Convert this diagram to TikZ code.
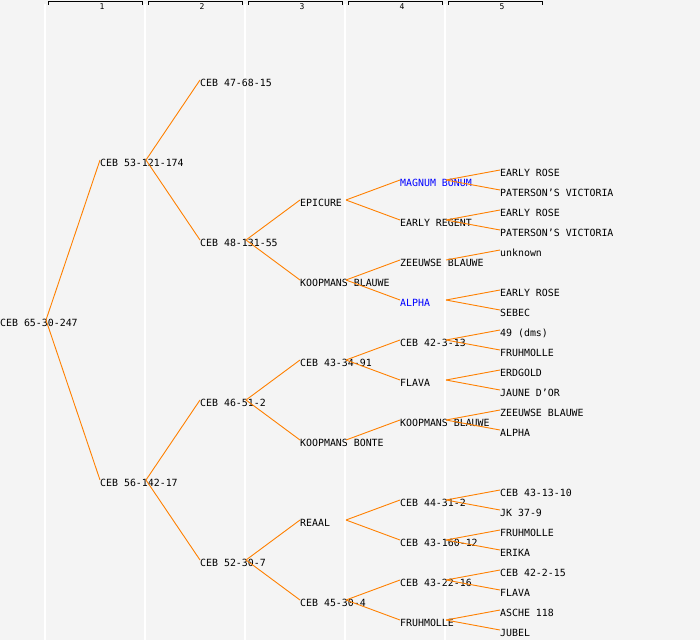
\documentclass[tikz,border=0pt]{standalone}
\usepackage{fontspec}
\setmonofont{DejaVu Sans Mono}
\definecolor{bggray}{RGB}{244,244,244}
\definecolor{lnorange}{RGB}{255,128,0}
\definecolor{hlblue}{RGB}{0,0,255}
\begin{document}
\begin{tikzpicture}[x=1pt,y=-1pt,
  lbl/.style={anchor=west,inner sep=0pt,text height=12pt,text depth=0pt,font=\ttfamily\fontsize{9.9}{10}\selectfont},
  hl/.style={lbl,text=hlblue},
  conn/.style={draw=lnorange,line width=0.9pt},
  gridln/.style={draw=white,line width=1.2pt},
  brk/.style={draw=black,line width=1pt},
  hdr/.style={inner sep=0pt,font=\ttfamily\fontsize{8}{8}\selectfont}]
\fill[bggray] (0,0) rectangle (700,640);
\useasboundingbox (0,0) rectangle (700,640);
% grid lines
\foreach \gx in {45,145,245,345,445} \draw[gridln] (\gx,4) -- (\gx,640);
% headers
\foreach \i/\hx in {1/48,2/148,3/248,4/348,5/448} {
  \draw[brk] (\hx,4.5) -- (\hx,1.5) -- (\hx+94,1.5) -- (\hx+94,4.5);
  \node[hdr] (h\i) at (\hx+54,6.8) {\i};
}
% gen 0
\node[lbl] (a) at (0,320) {CEB 65-30-247};
% gen 1
\node[lbl] (b1) at (100,160) {CEB 53-121-174};
\node[lbl] (b2) at (100,480) {CEB 56-142-17};
% gen 2
\node[lbl] (c1) at (200,80) {CEB 47-68-15};
\node[lbl] (c2) at (200,240) {CEB 48-131-55};
\node[lbl] (c3) at (200,400) {CEB 46-51-2};
\node[lbl] (c4) at (200,560) {CEB 52-30-7};
% gen 3
\node[lbl] (d1) at (300,200) {EPICURE};
\node[lbl] (d2) at (300,280) {KOOPMANS BLAUWE};
\node[lbl] (d3) at (300,360) {CEB 43-34-91};
\node[lbl] (d4) at (300,440) {KOOPMANS BONTE};
\node[lbl] (d5) at (300,520) {REAAL};
\node[lbl] (d6) at (300,600) {CEB 45-30-4};
% gen 4
\node[hl]  (e1) at (400,180) {MAGNUM BONUM};
\node[lbl] (e2) at (400,220) {EARLY REGENT};
\node[lbl] (e3) at (400,260) {ZEEUWSE BLAUWE};
\node[hl]  (e4) at (400,300) {ALPHA};
\node[lbl] (e5) at (400,340) {CEB 42-3-13};
\node[lbl] (e6) at (400,380) {FLAVA};
\node[lbl] (e7) at (400,420) {KOOPMANS BLAUWE};
\node[lbl] (e8) at (400,500) {CEB 44-31-2};
\node[lbl] (e9) at (400,540) {CEB 43-160-12};
\node[lbl] (e10) at (400,580) {CEB 43-22-16};
\node[lbl] (e11) at (400,620) {FRUHMOLLE};
% gen 5
\node[lbl] (f1) at (500,170) {EARLY ROSE};
\node[lbl] (f2) at (500,190) {PATERSON’S VICTORIA};
\node[lbl] (f3) at (500,210) {EARLY ROSE};
\node[lbl] (f4) at (500,230) {PATERSON’S VICTORIA};
\node[lbl] (f5) at (500,250) {unknown};
\node[lbl] (f6) at (500,290) {EARLY ROSE};
\node[lbl] (f7) at (500,310) {SEBEC};
\node[lbl] (f8) at (500,330) {49 (dms)};
\node[lbl] (f9) at (500,350) {FRUHMOLLE};
\node[lbl] (f10) at (500,370) {ERDGOLD};
\node[lbl] (f11) at (500,390) {JAUNE D’OR};
\node[lbl] (f12) at (500,410) {ZEEUWSE BLAUWE};
\node[lbl] (f13) at (500,430) {ALPHA};
\node[lbl] (f14) at (500,490) {CEB 43-13-10};
\node[lbl] (f15) at (500,510) {JK 37-9};
\node[lbl] (f16) at (500,530) {FRUHMOLLE};
\node[lbl] (f17) at (500,550) {ERIKA};
\node[lbl] (f18) at (500,570) {CEB 42-2-15};
\node[lbl] (f19) at (500,590) {FLAVA};
\node[lbl] (f20) at (500,610) {ASCHE 118};
\node[lbl] (f21) at (500,630) {JUBEL};
% connectors
\foreach \p/\c in {a/b1,a/b2,
  b1/c1,b1/c2,b2/c3,b2/c4,
  c2/d1,c2/d2,c3/d3,c3/d4,c4/d5,c4/d6,
  d1/e1,d1/e2,d2/e3,d2/e4,d3/e5,d3/e6,d4/e7,d5/e8,d5/e9,d6/e10,d6/e11,
  e1/f1,e1/f2,e2/f3,e2/f4,e3/f5,e4/f6,e4/f7,e5/f8,e5/f9,e6/f10,e6/f11,
  e7/f12,e7/f13,e8/f14,e8/f15,e9/f16,e9/f17,e10/f18,e10/f19,e11/f20,e11/f21}
  \draw[conn] ([xshift=46pt]\p.west) -- (\c.west);
\end{tikzpicture}
\end{document}
